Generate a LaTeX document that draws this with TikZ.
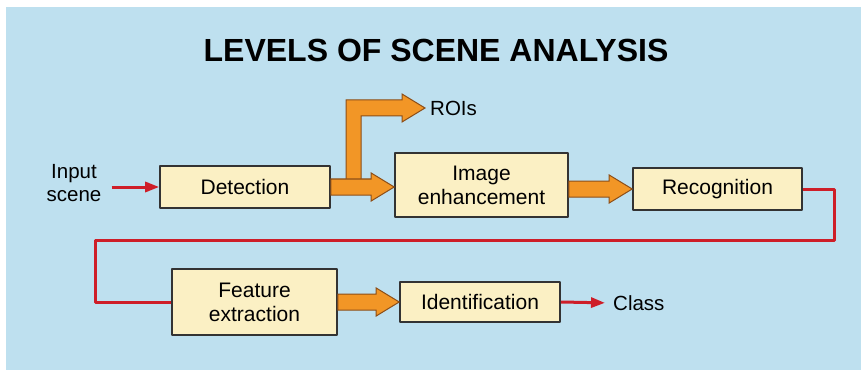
\documentclass[tikz,border=0pt]{standalone}
\usepackage{fontspec}
\setmainfont{Liberation Sans}
\usetikzlibrary{calc,arrows.meta}
\definecolor{sky}{RGB}{190,224,239}
\definecolor{stagefill}{RGB}{251,240,196}
\definecolor{flowred}{RGB}{206,30,40}
\definecolor{fatfill}{RGB}{242,150,38}
\definecolor{fatedge}{RGB}{140,78,24}
\tikzset{
	stage/.style={draw=black!80, line width=1.6pt, fill=stagefill, align=center, inner sep=0pt,
		font=\fontsize{21}{24}\selectfont},
	txt/.style={align=center, inner sep=0pt, font=\fontsize{20.5}{23}\selectfont},
	redline/.style={draw=flowred, line width=3pt},
	redarrow/.style={redline, -{Triangle[length=14pt,width=10pt]}},
	fat/.style={fill=fatfill, draw=fatedge, line width=1pt, line join=miter},
}
\newcommand\fatarrow[2]{%
	\draw[fat] ($(#1)+(0,-8)$) -- ($(#2)+(-23,-8)$) -- ($(#2)+(-23,-14)$) -- (#2)
		-- ($(#2)+(-23,14)$) -- ($(#2)+(-23,8)$) -- ($(#1)+(0,8)$) -- cycle;}
\begin{document}
\begin{tikzpicture}[x=1pt, y=-1pt, line join=round]
	\useasboundingbox (0,0) rectangle (861,374);
	\fill[white] (0,0) rectangle (861,374);
	\fill[sky] (6,7) rectangle (861,370);

	\node[font=\bfseries\fontsize{32}{36}\selectfont] (title) at (436,50) {LEVELS OF SCENE ANALYSIS};

	\node[stage, minimum width=170pt, minimum height=42pt] (det) at (245,187) {Detection};
	\node[stage, minimum width=173pt, minimum height=64pt] (enh) at (481.5,185) {Image\\enhancement};
	\node[stage, minimum width=169pt, minimum height=42pt] (rec) at (717.5,189) {Recognition};
	\node[stage, minimum width=165pt, minimum height=66pt] (fea) at (254.5,302) {Feature\\extraction};
	\node[stage, minimum width=160pt, minimum height=40pt] (idn) at (480,302) {Identification};

	\node[txt] (inp) at (74,183) {Input\\scene};
	\node[txt, anchor=west] (rois) at (430,108) {ROIs};
	\node[txt, anchor=west] (cls) at (613,303) {Class};

	\coordinate (fork) at (353.5,187);
	\coordinate (roitip) at ($(rois.west)+(-5,0)$);
	\coordinate (loopR) at (834,240);
	\coordinate (loopL) at (95,240);

	\draw[fat] ($(fork)+(-7.5,0)$) |- ($(roitip)+(-23,-8)$) -- ($(roitip)+(-23,-14)$) -- (roitip)
		-- ($(roitip)+(-23,14)$) -- ($(roitip)+(-23,8)$) -| ($(fork)+(7.5,0)$) -- cycle;
	\fatarrow{det.east}{enh.west |- det.east}
	\fatarrow{enh.east |- rec.west}{rec.west}
	\fatarrow{fea.east}{idn.west}

	\draw[redarrow, shorten <=10pt] (inp.east |- det.west) -- (det.west);
	\draw[redline] (rec.east) -| (loopR) -- (loopL) |- (fea.west);
	\draw[redarrow, shorten >=8pt] (idn.east) -- (cls.west);
\end{tikzpicture}
\end{document}
